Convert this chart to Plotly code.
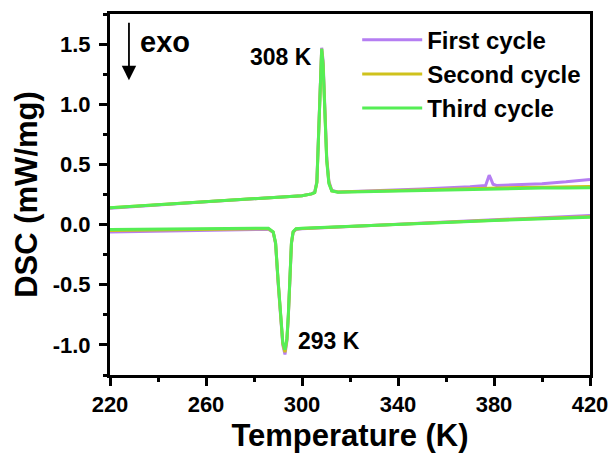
import plotly.graph_objects as go

# ---------------- data ----------------
# Heating branch (upper curve)
T_heat = [220, 240, 260, 280, 300, 304, 305.3, 306.2, 306.9, 307.5, 308.2, 308.8,
          309.5, 310.3, 311.2, 312.4, 315, 330, 350, 370, 376.5, 377.3, 378.0,
          378.7, 379.6, 381, 390, 400, 410, 420]
heat_1 = [0.135, 0.165, 0.19, 0.215, 0.24, 0.255, 0.27, 0.36, 0.70, 1.10, 1.47, 1.36,
          0.95, 0.56, 0.36, 0.285, 0.27, 0.28, 0.295, 0.315, 0.325, 0.37, 0.41,
          0.38, 0.335, 0.325, 0.33, 0.34, 0.355, 0.375]
heat_2 = [0.14, 0.165, 0.19, 0.215, 0.24, 0.255, 0.265, 0.35, 0.69, 1.10, 1.46, 1.33,
          0.92, 0.54, 0.35, 0.28, 0.27, 0.278, 0.29, 0.30, 0.302, 0.303, 0.304,
          0.304, 0.305, 0.305, 0.308, 0.31, 0.313, 0.316]
heat_3 = [0.14, 0.165, 0.19, 0.215, 0.24, 0.255, 0.265, 0.35, 0.70, 1.11, 1.46, 1.32,
          0.91, 0.53, 0.34, 0.28, 0.268, 0.275, 0.285, 0.295, 0.297, 0.298, 0.298,
          0.298, 0.299, 0.299, 0.301, 0.303, 0.305, 0.307]

# Cooling branch (lower curve)
T_cool = [220, 240, 260, 280, 286, 288, 289, 290, 291, 292, 292.9, 293.7, 294.3,
          295.0, 295.6, 296.3, 297.5, 300, 320, 340, 360, 380, 400, 420]
cool_1 = [-0.062, -0.055, -0.045, -0.035, -0.038, -0.065, -0.16, -0.47, -0.78, -1.0,
          -1.08, -0.97, -0.77, -0.42, -0.16, -0.065, -0.04, -0.035, -0.015, 0.005,
          0.022, 0.04, 0.057, 0.075]
cool_2 = [-0.05, -0.045, -0.038, -0.03, -0.034, -0.062, -0.155, -0.46, -0.77, -0.99,
          -1.06, -0.96, -0.76, -0.41, -0.155, -0.062, -0.037, -0.032, -0.013, 0.005,
          0.02, 0.037, 0.052, 0.066]
cool_3 = [-0.04, -0.036, -0.032, -0.026, -0.03, -0.06, -0.15, -0.45, -0.76, -0.98,
          -1.04, -0.95, -0.75, -0.40, -0.15, -0.06, -0.035, -0.03, -0.012, 0.004,
          0.018, 0.034, 0.048, 0.06]

series_names = ["First cycle", "Second cycle", "Third cycle"]
series_colors = ["#B57EF2", "#CFC21C", "#55EE55"]
heat_series = [heat_1, heat_2, heat_3]
cool_series = [cool_1, cool_2, cool_3]

x_ticks = [220, 260, 300, 340, 380, 420]
y_ticks = [-1.0, -0.5, 0.0, 0.5, 1.0, 1.5]
y_tick_labels = ["-1.0", "-0.5", "0.0", "0.5", "1.0", "1.5"]

FONT = "Liberation Sans, Arial, sans-serif"

fig = go.Figure()
for name, color, h, c in zip(series_names, series_colors, heat_series, cool_series):
    fig.add_trace(go.Scatter(
        x=T_heat + [None] + T_cool,
        y=h + [None] + c,
        mode="lines",
        name=name,
        line=dict(color=color, width=3),
        connectgaps=False,
    ))

axis_common = dict(
    showline=True, linecolor="black", linewidth=3, mirror=True,
    ticks="outside", tickcolor="black", tickwidth=3, ticklen=8,
    showgrid=False, zeroline=False, automargin=False,
    tickfont=dict(family=FONT, size=22, color="black", weight="bold"),
)

fig.update_xaxes(
    range=[220, 420], tickvals=x_ticks,
    minor=dict(ticks="outside", ticklen=4, tickwidth=3, tickcolor="black", dtick=20, tick0=220),
    title=dict(text="<b>Temperature (K)</b>", font=dict(family=FONT, size=31, color="black"), standoff=8),
    **axis_common,
)
fig.update_yaxes(
    range=[-1.25, 1.75], tickvals=y_ticks, ticktext=y_tick_labels,
    minor=dict(ticks="outside", ticklen=4, tickwidth=3, tickcolor="black", dtick=0.25, tick0=0),
    title=dict(text="<b>DSC (mW/mg)</b>", font=dict(family=FONT, size=31, color="black"), standoff=6),
    ticklabelstandoff=4,
    **axis_common,
)

fig.add_annotation(x=227.9, y=1.20, ax=227.9, ay=1.69, axref="x", ayref="y",
                   xref="x", yref="y", text="", showarrow=True,
                   arrowhead=2, arrowsize=1.6, arrowwidth=1.8, arrowcolor="black")
fig.add_annotation(x=231.7, y=1.52, xref="x", yref="y", text="<b>exo</b>",
                   showarrow=False, xanchor="left", yanchor="middle",
                   font=dict(family=FONT, size=29, color="black"))
fig.add_annotation(x=305.0, y=1.39, xref="x", yref="y", text="<b>308 K</b>",
                   showarrow=False, xanchor="right", yanchor="middle",
                   font=dict(family=FONT, size=23, color="black"))
fig.add_annotation(x=297.5, y=-0.97, xref="x", yref="y", text="<b>293 K</b>",
                   showarrow=False, xanchor="left", yanchor="middle",
                   font=dict(family=FONT, size=23, color="black"))

fig.update_layout(
    width=614, height=459,
    margin=dict(l=110, r=24, t=14, b=84),
    paper_bgcolor="white", plot_bgcolor="white",
    showlegend=True,
    legend=dict(x=0.515, y=0.99, xanchor="left", yanchor="top",
                bgcolor="rgba(0,0,0,0)", borderwidth=0,
                font=dict(family=FONT, size=24, color="black", weight="bold"),
                itemwidth=60, tracegroupgap=0),
    font=dict(family=FONT, color="black"),
)

fig.write_html("out.html")
